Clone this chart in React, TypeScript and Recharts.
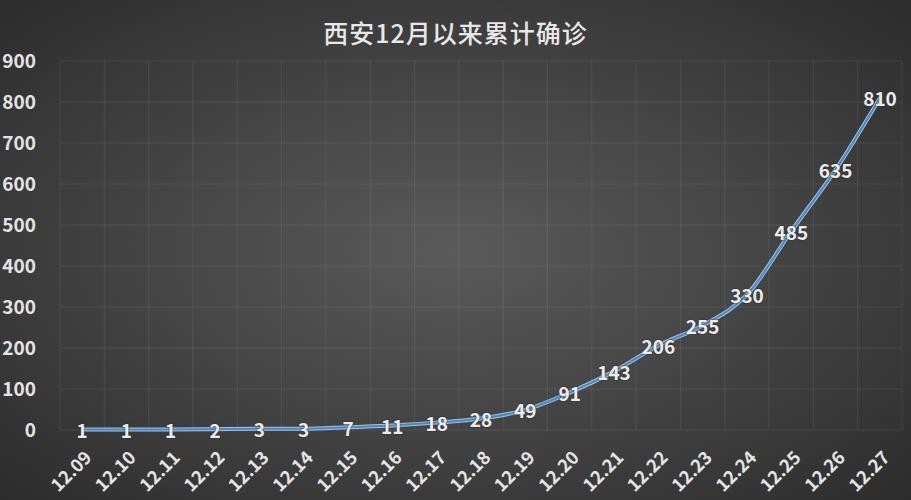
import React from 'react';
import { LineChart, Line, XAxis, YAxis, CartesianGrid, LabelList } from 'recharts';

const dates = [
  '12.09', '12.10', '12.11', '12.12', '12.13', '12.14', '12.15', '12.16', '12.17', '12.18',
  '12.19', '12.20', '12.21', '12.22', '12.23', '12.24', '12.25', '12.26', '12.27',
];
const totals = [1, 1, 1, 2, 3, 3, 7, 11, 18, 28, 49, 91, 143, 206, 255, 330, 485, 635, 810];
const yTicks = [0, 100, 200, 300, 400, 500, 600, 700, 800, 900];

const data = dates.map((d, i) => ({ date: d, total: totals[i] }));

const FONT = '"Noto Sans CJK SC", "Noto Sans", sans-serif';

function DateTick(props: any) {
  const { x, y, payload } = props;
  const ax = x + 5;
  const ay = y + 15;
  return (
    <text
      x={ax}
      y={ay}
      transform={`rotate(-45, ${ax}, ${ay})`}
      textAnchor="end"
      dominantBaseline="central"
      fill="#e4e4e4"
      fontSize={18}
      fontWeight={700}
      fontFamily={FONT}
    >
      {payload.value}
    </text>
  );
}

function PointLabel(props: any) {
  const { x, y, value } = props;
  return (
    <text
      x={x}
      y={y}
      textAnchor="middle"
      dominantBaseline="central"
      fill="#ececec"
      fontSize={19}
      fontWeight={700}
      fontFamily={FONT}
      style={{ paintOrder: 'stroke' }}
      stroke="rgba(40,40,40,0.35)"
      strokeWidth={2}
    >
      {value}
    </text>
  );
}

export default function App() {
  return (
    <div
      style={{
        position: 'absolute',
        left: 0,
        top: 0,
        width: 911,
        height: 500,
        background: 'radial-gradient(ellipse at 50% 50%, #5a5a5a 0%, #464646 45%, #2c2c2c 100%)',
        fontFamily: FONT,
      }}
    >
      <div
        style={{
          position: 'absolute',
          top: 14,
          left: 0,
          width: 911,
          textAlign: 'center',
          color: '#e8e8e8',
          fontSize: 25,
          fontWeight: 500,
          letterSpacing: 1,
        }}
      >
        西安12月以来累计确诊
      </div>
      <LineChart
        width={911}
        height={500}
        data={data}
        margin={{ top: 61, right: 9, bottom: 0, left: 0 }}
        style={{ position: 'absolute', left: 0, top: 0 }}
      >
        <CartesianGrid
          stroke="rgba(255,255,255,0.08)"
          strokeWidth={1}
          verticalCoordinatesGenerator={({ offset }: any) =>
            Array.from({ length: dates.length + 1 }, (_, i) => offset.left + (offset.width * i) / dates.length)
          }
        />
        <XAxis
          dataKey="date"
          height={70}
          interval={0}
          padding={{ left: 22, right: 22 }}
          axisLine={false}
          tickLine={false}
          tick={<DateTick />}
        />
        <YAxis
          width={60}
          domain={[0, 900]}
          ticks={yTicks}
          interval={0}
          axisLine={false}
          tickLine={false}
          tickMargin={18}
          tick={{ fill: '#e4e4e4', fontSize: 19, fontWeight: 700, fontFamily: FONT }}
        />
        <Line
          type="monotone"
          dataKey="total"
          stroke="#a3c3e2"
          strokeWidth={4}
          dot={false}
          isAnimationActive={false}
        />
        <Line
          type="monotone"
          dataKey="total"
          stroke="#4a86bf"
          strokeWidth={2}
          dot={false}
          isAnimationActive={false}
        >
          <LabelList dataKey="total" content={<PointLabel />} />
        </Line>
      </LineChart>
    </div>
  );
}
